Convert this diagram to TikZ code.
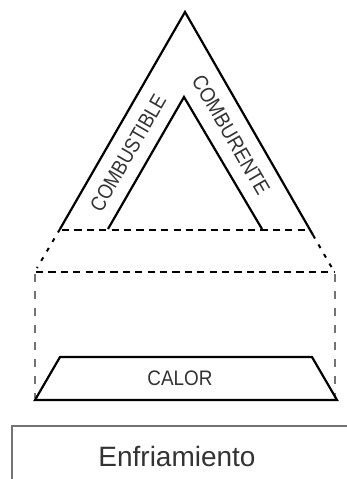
\documentclass[tikz,border=0pt]{standalone}
\usepackage{fontspec}
\setmainfont{Liberation Sans}
\usepackage{tikz}
\usetikzlibrary{positioning,calc}

\begin{document}
\begin{tikzpicture}[x=0.5pt, y=-0.5pt,
    side/.style={draw, line width=1.1pt, line join=miter},
    cut/.style={line width=1pt, dash pattern=on 3.6pt off 2.6pt},
    slant/.style={line width=1pt, dash pattern=on 2pt off 3.5pt},
    post/.style={black!55, line width=0.8pt, dash pattern=on 4pt off 4.5pt},
    leg/.style={font=\fontsize{10.5}{12}\selectfont, text=black!80, inner sep=0pt}
]
    \clip (0,0) rectangle (347,479);

    % Outer and inner triangle
    \coordinate (top) at (185,12);
    \coordinate (outL) at (60,229);
    \coordinate (outR) at (313,235);
    \coordinate (intop) at (184,97);
    \coordinate (inL) at (108,229);
    \coordinate (inR) at (262,229);
    \draw[side] (outL) -- (top) -- (outR);
    \draw[side] (inL) -- (intop) -- (inR);

    \node[leg, rotate=60] (fuel) at (128,153) {\scalebox{0.87}[1]{COMBUSTIBLE}};
    \node[leg, rotate=-60] (oxy) at (231,135) {\scalebox{0.9}[1]{COMBURENTE}};

    % Cut-away, dashed
    \coordinate (cutL) at (62,230);
    \coordinate (cutR) at (307,230);
    \coordinate (lowL) at (36,272);
    \coordinate (lowR) at (334,272);
    \draw[cut] (cutL) -- (cutR);
    \draw[slant] (outL) -- (37,268);
    \draw[slant] (outR) -- (332,268);
    \draw[cut] (lowL) -- (lowR);

    % Heat base
    \coordinate (baseL) at (35,400);
    \coordinate (baseR) at (337,400);
    \draw[post] (35,274) -- (35,398);
    \draw[post] (335,274) -- (335,398);
    \draw[side] (baseL) -- (60,357) -- (312,357) -- (baseR) -- cycle;
    \node[leg] (heat) at (180,378) {\scalebox{0.9}[1]{CALOR}};

    % Cooling box, running off the page
    \draw[black!55, line width=1pt] (360,426) -| (12,490);
    \node[font=\fontsize{14}{16}\selectfont, text=black!80] (cool) at (177,456) {Enfriamiento};
\end{tikzpicture}
\end{document}
